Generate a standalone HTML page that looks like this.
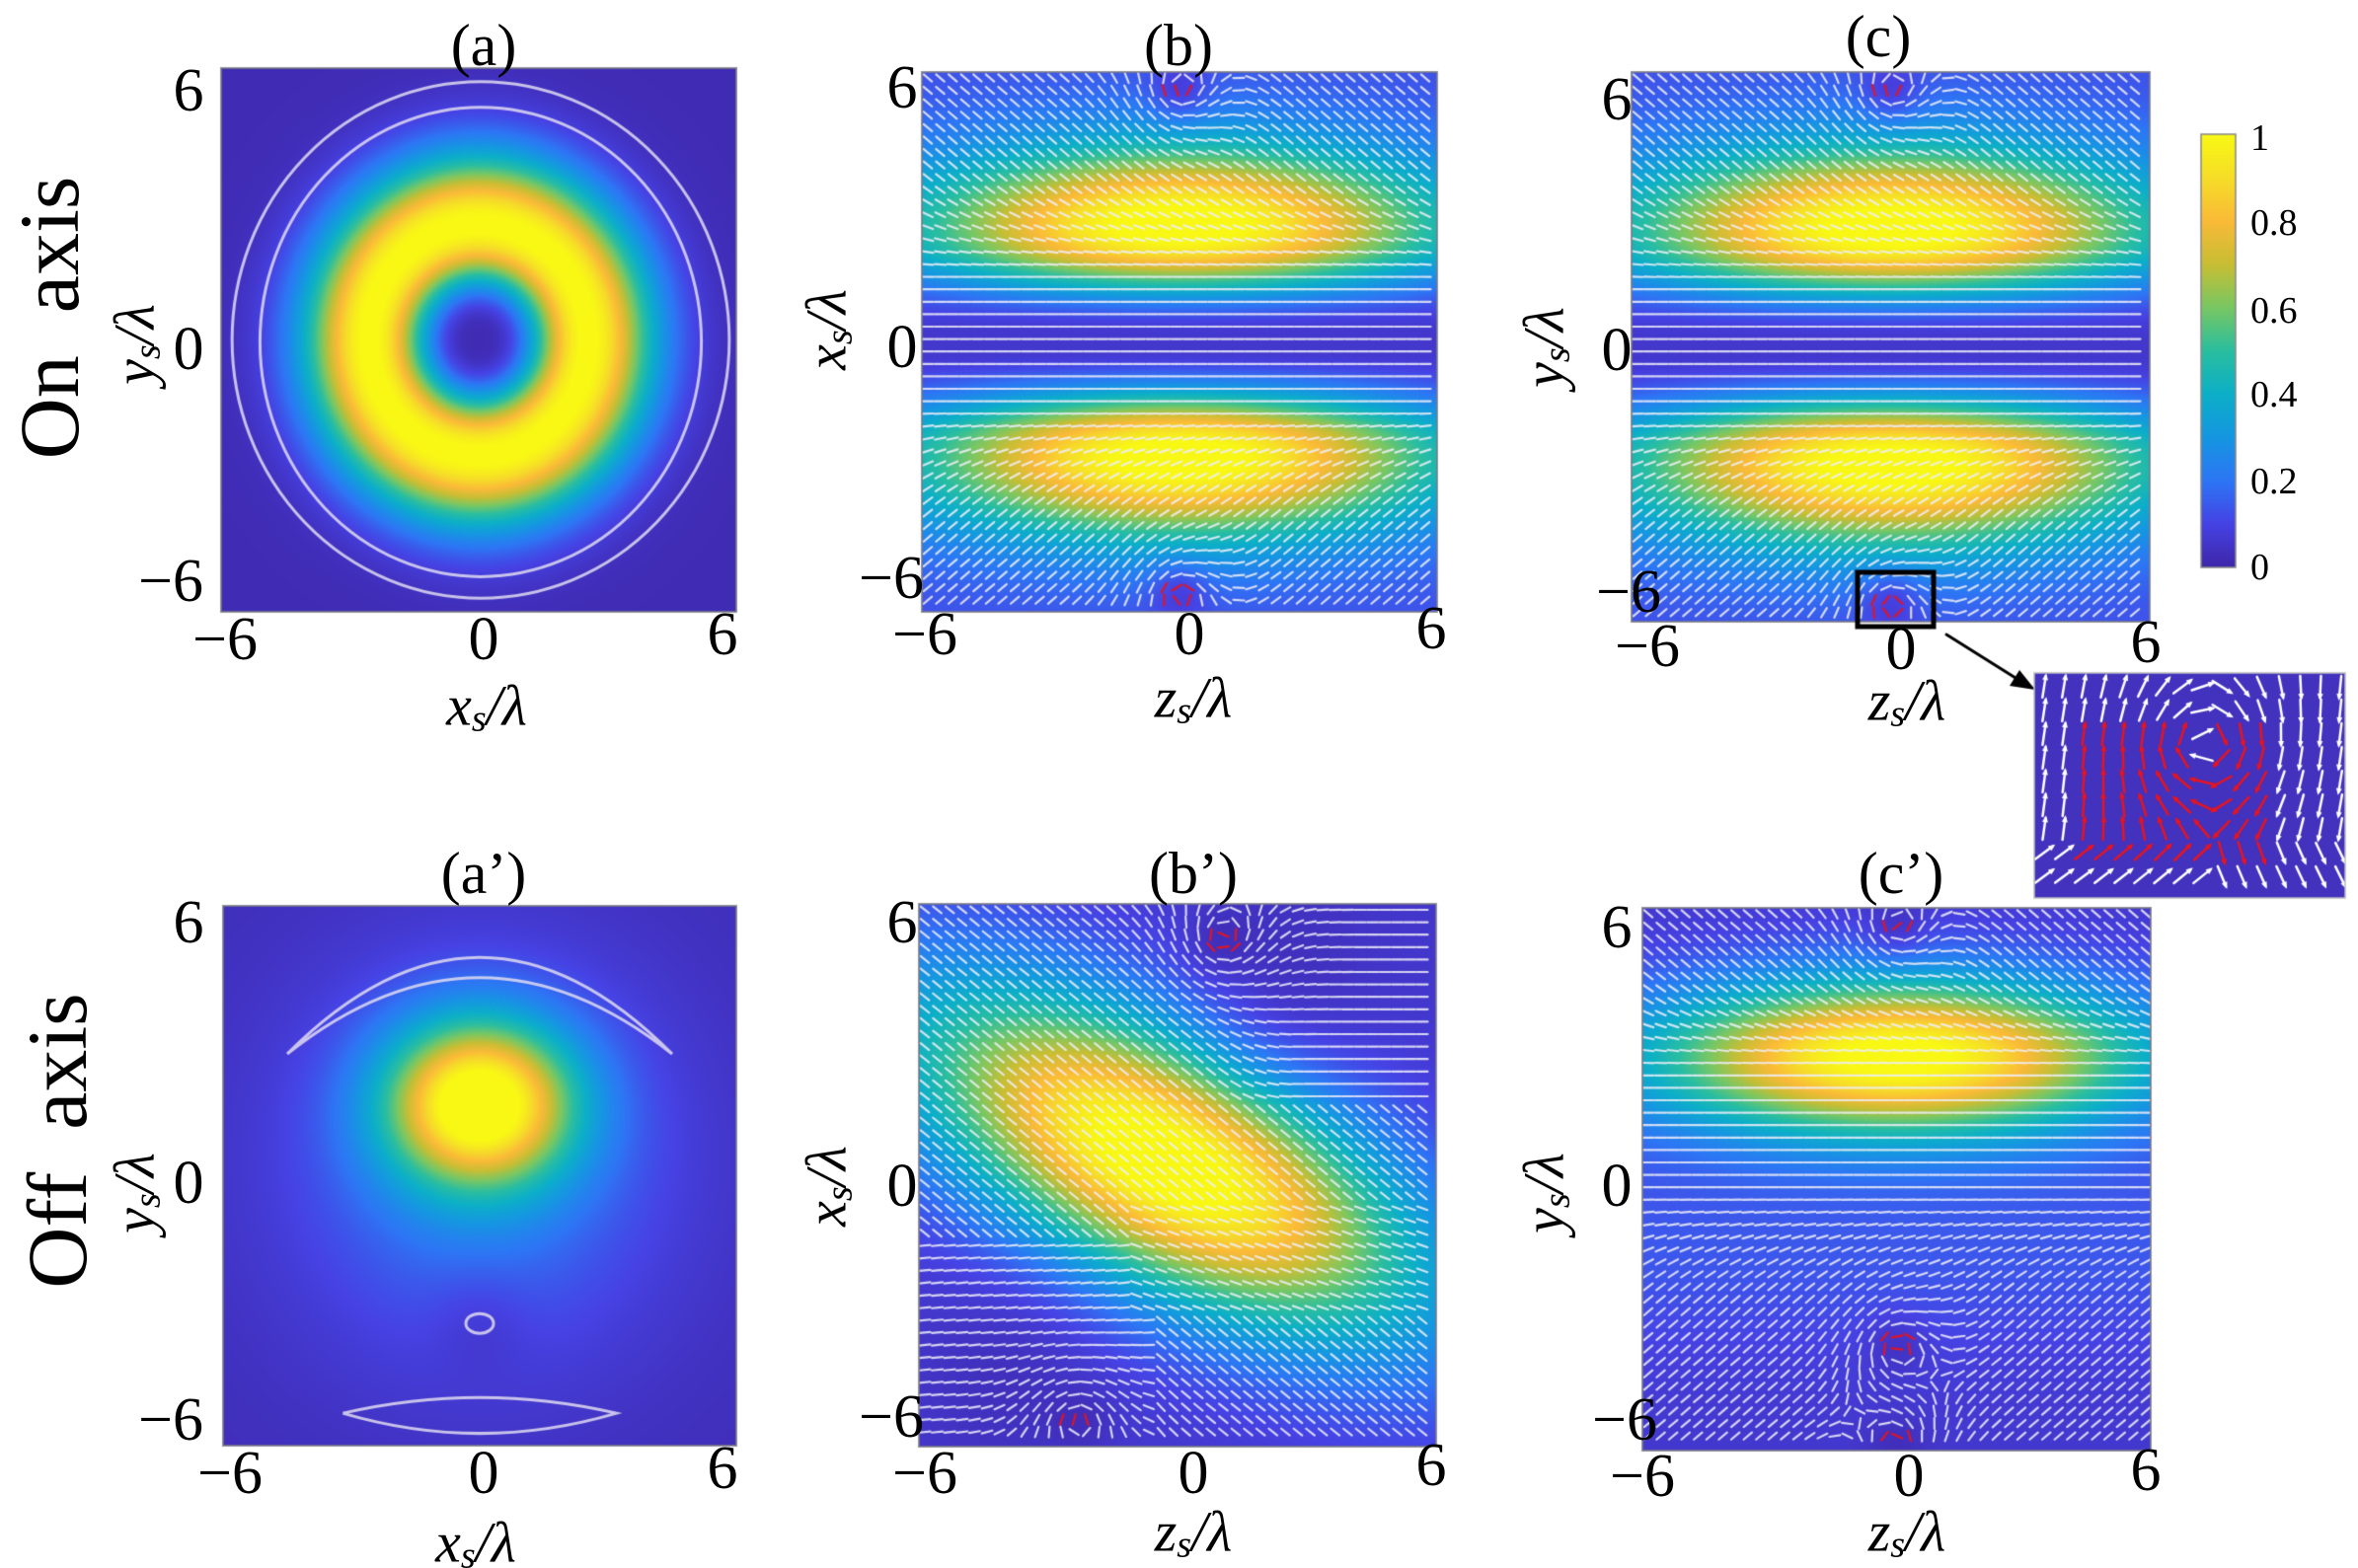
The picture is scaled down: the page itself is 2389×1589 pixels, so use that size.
<!DOCTYPE html>
<html><head><meta charset="utf-8">
<style>
html,body{margin:0;padding:0;background:#fff;}
#wrap{position:relative;width:2389px;height:1589px;overflow:hidden;background:#fff;}
canvas{position:absolute;left:0;top:0;}
.t{position:absolute;transform:translate(-50%,-50%);font-family:"Liberation Serif",serif;color:#000;white-space:nowrap;line-height:1;}
.k{font-size:62px;}
.ti{font-size:60px;}
.xl{font-size:58px;font-style:italic;}
.xl sub{font-size:38px;vertical-align:-6px;}
.yl{font-size:58px;font-style:italic;transform:translate(-50%,-50%) rotate(-90deg);}
.yl sub{font-size:38px;vertical-align:-6px;}
.big{font-size:86px;transform:translate(-50%,-50%) rotate(-90deg);}
.cb{position:absolute;font-family:"Liberation Serif",serif;font-size:38px;transform:translate(0,-50%);line-height:1;}
</style></head><body>
<div id="wrap">
<canvas id="c" width="2389" height="1589"></canvas>

<div class="t big" style="left:50px;top:322px">On&nbsp;&nbsp;axis</div>
<div class="t big" style="left:58px;top:1156px">Off&nbsp;&nbsp;axis</div>

<div class="t ti" style="left:490px;top:46px">(a)</div>
<div class="t ti" style="left:1194px;top:46px">(b)</div>
<div class="t ti" style="left:1903px;top:37px">(c)</div>
<div class="t ti" style="left:490px;top:885px">(a’)</div>
<div class="t ti" style="left:1209px;top:885px">(b’)</div>
<div class="t ti" style="left:1926px;top:885px">(c’)</div>

<div class="t k" style="left:191px;top:92px">6</div>
<div class="t k" style="left:191px;top:354px">0</div>
<div class="t k" style="left:173px;top:589px">−6</div>
<div class="t k" style="left:228px;top:648px">−6</div>
<div class="t k" style="left:490px;top:648px">0</div>
<div class="t k" style="left:732px;top:643px">6</div>

<div class="t k" style="left:914px;top:89px">6</div>
<div class="t k" style="left:914px;top:352px">0</div>
<div class="t k" style="left:903px;top:586px">−6</div>
<div class="t k" style="left:937px;top:643px">−6</div>
<div class="t k" style="left:1205px;top:643px">0</div>
<div class="t k" style="left:1450px;top:637px">6</div>

<div class="t k" style="left:1638px;top:101px">6</div>
<div class="t k" style="left:1638px;top:355px">0</div>
<div class="t k" style="left:1650px;top:600px">−6</div>
<div class="t k" style="left:1669px;top:655px">−6</div>
<div class="t k" style="left:1926px;top:658px">0</div>
<div class="t k" style="left:2174px;top:651px">6</div>

<div class="t k" style="left:191px;top:935px">6</div>
<div class="t k" style="left:191px;top:1199px">0</div>
<div class="t k" style="left:173px;top:1439px">−6</div>
<div class="t k" style="left:233px;top:1493px">−6</div>
<div class="t k" style="left:490px;top:1493px">0</div>
<div class="t k" style="left:732px;top:1488px">6</div>

<div class="t k" style="left:914px;top:935px">6</div>
<div class="t k" style="left:914px;top:1202px">0</div>
<div class="t k" style="left:903px;top:1436px">−6</div>
<div class="t k" style="left:937px;top:1493px">−6</div>
<div class="t k" style="left:1209px;top:1493px">0</div>
<div class="t k" style="left:1450px;top:1485px">6</div>

<div class="t k" style="left:1638px;top:940px">6</div>
<div class="t k" style="left:1638px;top:1202px">0</div>
<div class="t k" style="left:1646px;top:1439px">−6</div>
<div class="t k" style="left:1664px;top:1496px">−6</div>
<div class="t k" style="left:1934px;top:1496px">0</div>
<div class="t k" style="left:2174px;top:1490px">6</div>

<div class="t xl" style="left:493px;top:717px">x<sub>s</sub>/λ</div>
<div class="t xl" style="left:1209px;top:709px">z<sub>s</sub>/λ</div>
<div class="t xl" style="left:1932px;top:712px">z<sub>s</sub>/λ</div>
<div class="t xl" style="left:482px;top:1565px">x<sub>s</sub>/λ</div>
<div class="t xl" style="left:1209px;top:1554px">z<sub>s</sub>/λ</div>
<div class="t xl" style="left:1932px;top:1554px">z<sub>s</sub>/λ</div>

<div class="t yl" style="left:138px;top:349px">y<sub>s</sub>/λ</div>
<div class="t yl" style="left:839px;top:334px">x<sub>s</sub>/λ</div>
<div class="t yl" style="left:1566px;top:352px">y<sub>s</sub>/λ</div>
<div class="t yl" style="left:138px;top:1209px">y<sub>s</sub>/λ</div>
<div class="t yl" style="left:839px;top:1202px">x<sub>s</sub>/λ</div>
<div class="t yl" style="left:1566px;top:1209px">y<sub>s</sub>/λ</div>

<div class="cb" style="left:2280px;top:140px">1</div>
<div class="cb" style="left:2280px;top:226px">0.8</div>
<div class="cb" style="left:2280px;top:315px">0.6</div>
<div class="cb" style="left:2280px;top:400px">0.4</div>
<div class="cb" style="left:2280px;top:488px">0.2</div>
<div class="cb" style="left:2280px;top:575px">0</div>
</div>

<script>
(function(){
var cv=document.getElementById('c'),ctx=cv.getContext('2d');
var stops=[[0,[62,38,168]],[0.1,[70,66,228]],[0.2,[45,118,245]],[0.3,[22,150,226]],[0.4,[12,175,200]],[0.5,[42,190,160]],[0.6,[120,199,100]],[0.7,[200,190,52]],[0.8,[250,186,56]],[0.9,[246,222,40]],[1,[248,248,20]]];
function cmap(t){t=Math.max(0,Math.min(1,t));for(var i=1;i<stops.length;i++){if(t<=stops[i][0]){var a=stops[i-1],b=stops[i],f=(t-a[0])/(b[0]-a[0]);return [a[1][0]+(b[1][0]-a[1][0])*f,a[1][1]+(b[1][1]-a[1][1])*f,a[1][2]+(b[1][2]-a[1][2])*f];}}return stops[stops.length-1][1];}
function vort(u,v,vs){var m=1;for(var i=0;i<vs.length;i++){var d=(u-vs[i][0])*(u-vs[i][0])+(v-vs[i][1])*(v-vs[i][1]);m*=1-0.5*Math.exp(-d/0.5);}return m;}
function field(x0,y0,x1,y1,f){var w=x1-x0,h=y1-y0;var img=ctx.createImageData(w,h);for(var j=0;j<h;j++){for(var i=0;i<w;i++){var u=(i+0.5)/w*12-6,v=6-(j+0.5)/h*12;var c=cmap(f(u,v));var k=(j*w+i)*4;img.data[k]=c[0];img.data[k+1]=c[1];img.data[k+2]=c[2];img.data[k+3]=255;}}ctx.putImageData(img,x0,y0);}
function ring(s){return s*Math.exp(1-s);}
field(224,69,746,620,function(u,v){var s=(u*u+v*v)/(2.55*2.55);var I=1.02*Math.pow(ring(s),1.6);return 0.02+0.98*Math.min(1,I);});
var fbc=function(u,v){var s=v*v/(2.6*2.6);var I=Math.exp(-u*u/(2*4.2*4.2))*Math.pow(ring(s),1.3);I=0.06+0.94*I+0.06*Math.min(1,v*v/4);return I*vort(u,v,[[0,5.6],[0,-5.6]]);};
field(934,73,1456,620,fbc);
field(1653,73,2178,630,fbc);
field(226,918,746,1465,function(u,v){var g=u*u/(2*1.5*1.5)+(v-1.6)*(v-1.6)/(2*1.25*1.25);var I=1.0*Math.exp(-g);I+=0.2*Math.exp(-(u*u+(v-0.3)*(v-0.3))/(2*3.0*3.0));var d=u*u+(v+3.5)*(v+3.5);I*=1-0.5*Math.exp(-d/1.5);return 0.03+0.97*Math.min(1,I);});
field(931,916,1455,1466,function(u,v){var a=-27*Math.PI/180,vv=v-0.3,uu=u+0.3;var p=uu*Math.cos(a)+vv*Math.sin(a),q=-uu*Math.sin(a)+vv*Math.cos(a);var I=1.08*Math.exp(-p*p/(2*4.3*4.3)-q*q/(2*1.8*1.8));I=0.06+0.94*Math.min(1,I);I*=1-0.5*Math.exp(-((u-2.5)*(u-2.5)+(v-4.5)*(v-4.5))/4)-0.45*Math.exp(-((u+4)*(u+4)+(v+4.5)*(v+4.5))/4);return I*vort(u,v,[[1,5.2],[-2.3,-5.4]]);});
field(1664,920,2179,1470,function(u,v){var I=1.05*Math.exp(-u*u/(2*4.0*4.0))*Math.exp(-(v-2.7)*(v-2.7)/(2*1.2*1.2));I=0.06+0.94*Math.min(1,I)+0.08*Math.exp(-(v+1.5)*(v+1.5)/6);return I*vort(u,v,[[0,5.6],[0,-3.7],[0,-5.9]]);});

ctx.strokeStyle='rgba(225,220,240,0.85)';ctx.lineWidth=3;
function ell(cx,cy,rx,ry){ctx.beginPath();ctx.ellipse(cx,cy,rx,ry,0,0,Math.PI*2);ctx.stroke();}
var ax=(224+746)/2,ay=(69+620)/2;
ell(ax+2,ay+2,5.14/6*261,5.19/6*275);ell(ax+2,ay,5.79/6*261,5.71/6*275);
var bx=486,by=1191,sx=260/6,sy=273/6;
ctx.beginPath();ctx.moveTo(bx-4.5*sx,by-2.7*sy);ctx.quadraticCurveTo(bx,by-7.0*sy,bx+4.5*sx,by-2.7*sy);ctx.quadraticCurveTo(bx,by-6.1*sy,bx-4.5*sx,by-2.7*sy);ctx.stroke();
ctx.beginPath();ctx.moveTo(bx-3.2*sx,by+5.3*sy);ctx.quadraticCurveTo(bx,by+4.6*sy,bx+3.2*sx,by+5.3*sy);ctx.quadraticCurveTo(bx,by+6.2*sy,bx-3.2*sx,by+5.3*sy);ctx.stroke();
ell(bx,by+3.3*sy,14,10);

function arrows(x0,y0,x1,y1,dir,reds){var w=x1-x0,h=y1-y0,sp=12.6;ctx.lineCap='round';
for(var py=y0+6;py<y1-3;py+=sp){for(var px=x0+6;px<x1-3;px+=sp){var u=(px-x0)/w*12-6,v=6-(py-y0)/h*12;var d=dir(u,v);var n=Math.hypot(d[0],d[1])||1;var dx=d[0]/n*5.5,dy=-d[1]/n*5.5;
var red=false;for(var r=0;r<reds.length;r++){if(Math.abs(u-reds[r][0])<0.45&&Math.abs(v-reds[r][1])<0.25)red=true;}
ctx.strokeStyle=red?'rgba(230,20,30,0.95)':'rgba(238,238,248,0.85)';ctx.lineWidth=2.2;
ctx.beginPath();ctx.moveTo(px-dx,py-dy);ctx.lineTo(px+dx,py+dy);ctx.stroke();}}}
function sm(x,a,b){var t=Math.max(0,Math.min(1,(x-a)/(b-a)));return t*t*(3-2*t);}
function addV(d,u,v,vs){for(var i=0;i<vs.length;i++){var du=u-vs[i][0],dv=v-vs[i][1],r2=du*du+dv*dv,r=Math.sqrt(r2)+1e-6,wt=3*Math.exp(-r2/1.6);d[0]+=-dv/r*wt*vs[i][2];d[1]+=du/r*wt*vs[i][2];}return d;}
var dbc=function(u,v){var k=0.85*sm(Math.abs(v),1.2,4.2);var d=[1,v>0?-k:k];return addV(d,u,v,[[0,5.6,1],[0,-5.6,-1]]);};
arrows(934,73,1456,620,dbc,[[0,5.6],[0,-5.6]]);
arrows(1653,73,2178,630,dbc,[[0,5.6],[0,-5.6]]);
arrows(931,916,1455,1466,function(u,v){var k=0.8;if(u>0.5&&v>1.5)k=0.8*(1-sm(u,0.5,3));if(v<-1.5&&u<-0.5)k=-0.1;var d=[1,-k];if(v<-0.5&&v>-3&&u>-1)d=[1,-0.35];return addV(d,u,v,[[1,5.2,1],[-2.3,-5.4,-1]]);},[[1,5.2],[-2.3,-5.4]]);
arrows(1664,920,2179,1470,function(u,v){var k=0.85*sm(Math.abs(v-1),1.2,4);var d=[1,v>1?-k:k];return addV(d,u,v,[[0,5.6,1],[0,-3.7,-1],[0,-5.9,1]]);},[[0,5.6],[0,-3.7],[0,-5.9]]);

ctx.strokeStyle='rgba(120,120,130,0.8)';ctx.lineWidth=2;
[[224,69,746,620],[934,73,1456,620],[1653,73,2178,630],[226,918,746,1465],[931,916,1455,1466],[1664,920,2179,1470]].forEach(function(r){ctx.strokeRect(r[0],r[1],r[2]-r[0],r[3]-r[1]);});

for(var yy=136;yy<575;yy++){var c=cmap(1-(yy-136)/(575-136));ctx.fillStyle='rgb('+(c[0]|0)+','+(c[1]|0)+','+(c[2]|0)+')';ctx.fillRect(2230,yy,35,1);}
ctx.strokeStyle='#888';ctx.lineWidth=1.5;ctx.strokeRect(2230,136,35,439);

ctx.strokeStyle='#000';ctx.lineWidth=5;ctx.strokeRect(1882,580,77,55);
ctx.lineWidth=3;ctx.beginPath();ctx.moveTo(1972,643);ctx.lineTo(2050,692);ctx.stroke();
ctx.fillStyle='#000';ctx.beginPath();ctx.moveTo(2062,699);ctx.lineTo(2036,695);ctx.lineTo(2046,679);ctx.closePath();ctx.fill();

var ix0=2061,iy0=682,ix1=2376,iy1=910;
ctx.fillStyle='rgb(66,50,190)';ctx.fillRect(ix0,iy0,ix1-ix0,iy1-iy0);
var vcx=2235,vcy=752;
for(var py=iy0+14;py<iy1;py+=24){for(var px=ix0+10;px<ix1;px+=20){var du=px-vcx,dv=py-vcy,r=Math.hypot(du,dv)+1e-6;var wt=Math.exp(-r*r/(2*60*60));
var tx=-dv/r,ty=du/r;var fx=(px<vcx?0.15:-0.15),fy=(px<vcx?-1:1);var dx=tx*wt*2+fx*(1-wt),dy=ty*wt*2+fy*(1-wt);if(py>iy1-50){dx+=0.8;dy+=0.3;}var n=Math.hypot(dx,dy)||1;dx=dx/n*11;dy=dy/n*11;
var red=(px>ix0+40&&px<ix0+250&&py>iy0+50&&py<iy0+190&&Math.abs(px-vcx)+Math.abs(py-vcy)>20);
var col=red?'#e8141e':'#fff';ctx.strokeStyle=col;ctx.fillStyle=col;ctx.lineWidth=2.5;
ctx.beginPath();ctx.moveTo(px-dx,py-dy);ctx.lineTo(px+dx,py+dy);ctx.stroke();
var hx=dx/11,hy=dy/11;ctx.beginPath();ctx.moveTo(px+dx+hx*3,py+dy+hy*3);ctx.lineTo(px+dx-hx*4-hy*3,py+dy-hy*4+hx*3);ctx.lineTo(px+dx-hx*4+hy*3,py+dy-hy*4-hx*3);ctx.closePath();ctx.fill();}}
ctx.strokeStyle='#bbb';ctx.lineWidth=1.5;ctx.strokeRect(ix0,iy0,ix1-ix0,iy1-iy0);
})();
</script>
</body></html>
